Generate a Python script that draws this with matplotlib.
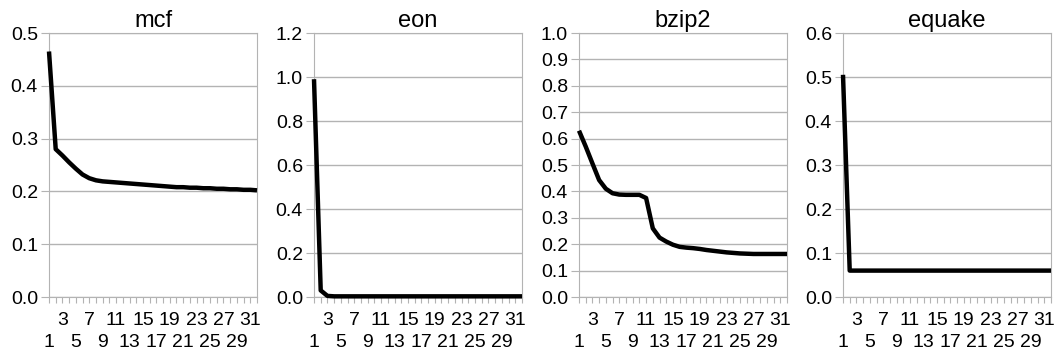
import numpy as np
import matplotlib.pyplot as plt
from matplotlib.ticker import FixedLocator, FixedFormatter

plt.rcParams['font.family'] = ['Liberation Sans', 'DejaVu Sans']

titles = ['mcf', 'eon', 'bzip2', 'equake']

mcf = [0.465, 0.280, 0.268, 0.255, 0.243, 0.232, 0.225, 0.221, 0.219, 0.218,
       0.217, 0.216, 0.215, 0.214, 0.213, 0.212, 0.211, 0.210, 0.209, 0.208,
       0.208, 0.207, 0.207, 0.206, 0.206, 0.205, 0.205, 0.204, 0.204, 0.203,
       0.203, 0.202]
eon = [0.99, 0.030, 0.005] + [0.003] * 29
bzip2 = [0.630, 0.570, 0.506, 0.443, 0.410, 0.393, 0.388, 0.387, 0.387, 0.387,
         0.375, 0.260, 0.225, 0.210, 0.198, 0.190, 0.187, 0.185, 0.182, 0.178,
         0.175, 0.172, 0.169, 0.167, 0.165, 0.164, 0.163, 0.163, 0.163, 0.163,
         0.163, 0.163]
equake = [0.505] + [0.060] * 31

series = [mcf, eon, bzip2, equake]
ymax = [0.5, 1.2, 1.0, 0.6]
ystep = [0.1, 0.2, 0.1, 0.1]

# axes left edges in pixels
lefts = [49, 314, 579, 843]
width = 208
W, H = 1058, 354

fig = plt.figure(figsize=(W / 100, H / 100), dpi=100)
grid_c = '#b3b3b3'

for i in range(4):
    ax = fig.add_axes([lefts[i] / W, 1 - 297 / H, width / W, (297 - 33) / H])
    y = series[i]
    x = np.arange(1, len(y) + 1)
    ax.plot(x, y, color='black', lw=3.2, solid_joinstyle='round',
            solid_capstyle='butt', clip_on=False, zorder=3)
    ax.set_xlim(1, len(y))
    ax.set_ylim(0, ymax[i])
    ax.set_yticks(np.arange(0, ymax[i] + 1e-9, ystep[i]))
    ax.yaxis.set_major_formatter(plt.FormatStrFormatter('%.1f'))
    ax.grid(axis='y', color=grid_c, lw=1)
    ax.set_axisbelow(True)

    # category labels in two staggered rows
    top = [k for k in x if k % 4 == 3]
    bottom = [k for k in x if k % 4 == 1]
    ax.set_xticks(x)
    ax.set_xticklabels([str(k) if k in top else '' for k in x])
    ax.xaxis.remove_overlapping_locs = False
    ax.xaxis.set_minor_locator(FixedLocator(bottom))
    ax.xaxis.set_minor_formatter(FixedFormatter([str(k) for k in bottom]))

    for s in ax.spines.values():
        s.set_color(grid_c)
    ax.tick_params(axis='x', which='major', length=4.5, color=grid_c,
                   labelsize=14, pad=6)
    ax.tick_params(axis='x', which='minor', length=0, labelsize=14, pad=26.5)
    ax.tick_params(axis='y', length=6, color=grid_c, labelsize=14, pad=2)
    ax.set_title(titles[i], fontsize=17, pad=4)

fig.savefig('out.png', dpi=100)
